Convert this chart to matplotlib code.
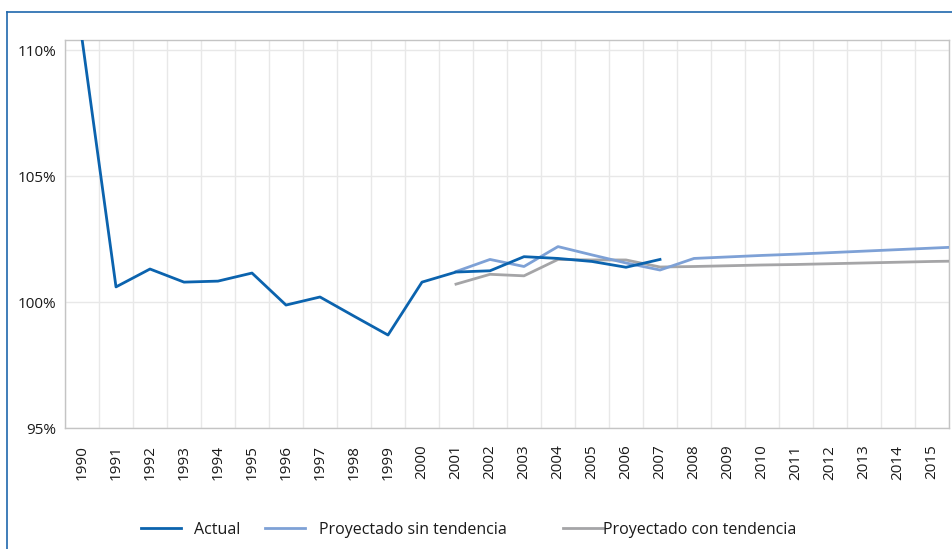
import matplotlib
matplotlib.use("Agg")
import matplotlib.pyplot as plt
from matplotlib.lines import Line2D
import numpy as np

plt.rcParams['font.family'] = ['Open Sans', 'DejaVu Sans']

years = list(range(1990, 2017))
tick_years = [str(y) for y in range(1990, 2016)]

actual = [110.45, 100.60, 101.31, 100.79, 100.83, 101.15, 99.88, 100.20, 99.44, 98.69,
          100.79, 101.19, 101.24, 101.80, 101.73, 101.61, 101.38, 101.69]
actual_years = list(range(1990, 2008))

sin_tend = [101.21, 101.69, 101.41, 102.20, 101.87, 101.55, 101.27, 101.73,
            101.79, 101.85, 101.90, 101.96, 102.02, 102.08, 102.14, 102.20]
sin_years = list(range(2001, 2017))

con_tend = [100.71, 101.10, 101.04, 101.69, 101.67, 101.67, 101.39, 101.41,
            101.44, 101.47, 101.49, 101.52, 101.55, 101.58, 101.61, 101.63]
con_years = list(range(2001, 2017))

y_ticks = [95, 100, 105, 110]

c_actual = '#0b63ae'
c_sin = '#7ea1d6'
c_con = '#a5a5a7'
frame_blue = '#1f67ad'

fig = plt.figure(figsize=(9.53, 5.49), dpi=100)
ax = fig.add_axes([65/953, (549-428)/549, (949-65)/953, (428-40)/549])

def xi(yrs):
    return [y - 1990 for y in yrs]

ax.plot(xi(actual_years), actual, color=c_actual, lw=2.0, zorder=5)
ax.plot(xi(sin_years), sin_tend, color=c_sin, lw=2.0, zorder=4)
ax.plot(xi(con_years), con_tend, color=c_con, lw=2.0, zorder=3)

ax.set_xlim(-0.5, 25.5)
ax.set_ylim(95, 110.4)
ax.set_xticks(range(len(tick_years)))
ax.set_xticklabels(tick_years, rotation=90, fontsize=11, color='#1a1a1a')
ax.set_xticks(np.arange(-0.5, 25.6, 1), minor=True)
ax.set_yticks(y_ticks)
ax.set_yticklabels([f"{v}%" for v in y_ticks], fontsize=11, color='#1a1a1a')
ax.tick_params(axis='both', which='both', length=0)
ax.tick_params(axis='x', pad=12)
ax.tick_params(axis='y', pad=6)
ax.grid(True, which='minor', axis='x', color='#e8e8e8', lw=1.0)
ax.grid(True, which='major', axis='y', color='#e8e8e8', lw=1.0)
ax.set_axisbelow(True)
for s in ax.spines.values():
    s.set_color('#c4c4c4')
    s.set_linewidth(1.0)

# outer frame (blue)
fig.add_artist(Line2D([7/953, 7/953], [0, 1 - 12/549], transform=fig.transFigure, color=frame_blue, lw=1.2))
fig.add_artist(Line2D([7/953, 1], [1 - 12/549, 1 - 12/549], transform=fig.transFigure, color=frame_blue, lw=1.2))

# legend entries
entries = [("Actual", c_actual, 141, 0.8),
           ("Proyectado sin tendencia", c_sin, 265, 0.9),
           ("Proyectado con tendencia", c_con, 563, 0.0)]
for label, col, x0, pad in entries:
    h = Line2D([], [], color=col, lw=2.0)
    leg = fig.legend([h], [label], loc='center left',
                     bbox_to_anchor=(x0/953, 1 - 530/549), frameon=False,
                     fontsize=11.5, handlelength=2.5, handletextpad=pad,
                     borderpad=0, borderaxespad=0)
    for t in leg.get_texts():
        t.set_color('#1a1a1a')

fig.savefig('out.png', dpi=100)
